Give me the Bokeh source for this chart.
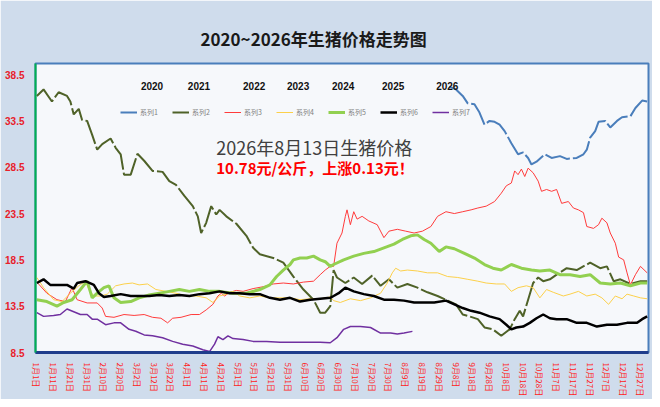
from bokeh.plotting import figure
from bokeh.models import Range1d, FixedTicker, Legend, LegendItem, Label
from bokeh.embed import file_html
from bokeh.resources import INLINE

TITLE = "2020~2026年生猪价格走势图"
NOTE1 = "2026年8月13日生猪价格"
NOTE2 = "10.78元/公斤，上涨0.13元！"

series_names = ["系列1", "系列2", "系列3", "系列4", "系列5", "系列6", "系列7"]
years = ["2020", "2021", "2022", "2023", "2024", "2025", "2026"]

y_ticks = [8.5, 13.5, 18.5, 23.5, 28.5, 33.5, 38.5]
tick_days = list(range(0, 361, 10))
tick_labels = ["1月1日", "1月11日", "1月21日", "1月31日", "2月10日", "2月20日", "3月2日",
               "3月12日", "3月22日", "4月1日", "4月11日", "4月21日", "5月1日", "5月11日",
               "5月21日", "5月31日", "6月10日", "6月20日", "6月30日", "7月10日", "7月20日",
               "7月30日", "8月9日", "8月19日", "8月29日", "9月8日", "9月18日", "9月28日",
               "10月8日", "10月18日", "10月28日", "11月7日", "11月17日", "11月27日",
               "12月7日", "12月17日", "12月27日"]

# 2020
d1 = [246, 250, 254, 257, 261, 264, 267, 270, 273, 276, 279, 283, 287, 290, 293, 295, 298, 303,
      307, 312, 316, 322, 326, 328, 330, 333, 335, 339, 342, 346, 349, 354, 357, 361, 364]
v1 = [37.2, 36.9, 36.2, 35.4, 35.3, 34.4, 33.1, 33.5, 33.4, 33.1, 32.4, 31.1, 29.9, 30.1, 29.5,
      28.8, 29.1, 29.9, 29.5, 29.7, 29.4, 29.5, 29.9, 30.4, 31.7, 32.4, 33.4, 33.5, 32.8, 33.5,
      33.9, 34.0, 34.9, 35.7, 35.6]
# 2021
d2 = [0, 4, 9, 13, 18, 20, 22, 25, 27, 30, 33, 36, 39, 44, 47, 50, 52, 56, 60, 64, 69, 75, 79, 83,
      88, 93, 96, 98, 101, 104, 107, 109, 113, 119, 125, 129, 133, 141, 147, 153, 159, 165, 169,
      172, 175, 177, 179, 184, 189, 194, 200, 205, 210, 215, 221, 227, 233, 239, 245, 250, 254,
      258, 263, 267, 272, 277, 282, 285, 288, 290, 293, 296, 299, 302, 306, 310, 316, 322, 330,
      336, 340, 344, 348, 354, 360, 364]
v2 = [36.2, 36.9, 35.6, 36.6, 36.2, 35.6, 34.2, 34.8, 33.6, 33.5, 32.0, 30.4, 31.0, 31.6, 30.6,
      29.9, 27.7, 27.7, 29.95, 29.2, 28.1, 28.0, 27.0, 26.6, 25.4, 24.3, 23.2, 21.4, 22.5, 24.3,
      23.4, 23.9, 23.2, 22.4, 21.1, 19.8, 19.1, 18.7, 18.2, 16.7, 15.3, 14.2, 12.8, 12.8, 13.5,
      17.4, 16.6, 16.0, 16.6, 15.9, 16.8, 15.7, 16.4, 15.5, 15.9, 15.5, 15.0, 14.6, 14.1, 13.7,
      12.6, 12.4, 12.1, 11.2, 11.0, 10.3, 11.0, 12.1, 13.0, 12.4, 14.2, 16.0, 16.6, 16.2, 16.4,
      16.9, 17.6, 17.4, 18.2, 17.6, 17.8, 16.2, 16.4, 15.9, 16.2, 16.2]
# 2022
d3 = [0, 6, 12, 17, 21, 24, 30, 36, 39, 41, 46, 52, 58, 64, 69, 74, 78, 81, 86, 92, 97, 101, 105,
      108, 110, 112, 115, 119, 123, 129, 135, 141, 147, 153, 159, 165, 169, 172, 175, 177, 179,
      182, 184, 185, 187, 189, 191, 194, 198, 203, 207, 210, 215, 220, 225, 230, 235, 239, 244,
      249, 254, 259, 263, 268, 273, 277, 280, 283, 285, 287, 289, 291, 293, 296, 299, 301, 304,
      307, 310, 313, 317, 320, 323, 326, 328, 332, 335, 337, 340, 342, 345, 347, 350, 352, 354,
      357, 360, 364]
v3 = [16.1, 14.9, 14.2, 14.0, 15.5, 14.2, 13.85, 13.85, 13.3, 12.4, 12.3, 12.6, 12.5, 12.6, 12.3,
      12.2, 11.7, 12.2, 12.3, 12.6, 12.6, 13.1, 13.7, 14.6, 14.9, 14.6, 15.0, 15.2, 15.1, 15.4,
      15.6, 15.9, 16.0, 15.9, 16.1, 16.2, 16.9, 17.4, 17.8, 17.8, 20.3, 21.4, 23.2, 23.9, 22.3,
      23.7, 22.9, 23.2, 22.7, 22.3, 20.9, 21.6, 21.8, 21.6, 21.4, 21.6, 22.1, 23.2, 23.7, 23.5,
      23.7, 23.9, 24.1, 24.3, 24.8, 25.7, 26.5, 26.8, 28.1, 27.7, 28.3, 27.5, 28.4, 27.9, 27.0,
      25.9, 26.1, 25.9, 26.1, 24.6, 24.8, 24.1, 23.9, 23.6, 22.1, 21.9, 22.3, 23.0, 22.5, 21.4,
      20.3, 18.8, 18.5, 17.1, 15.8, 16.9, 17.8, 17.1]
# 2023
d4 = [0, 4, 10, 15, 20, 25, 29, 31, 34, 38, 42, 47, 52, 57, 61, 66, 71, 77, 83, 89, 95, 101, 105,
      109, 113, 117, 121, 127, 133, 139, 145, 151, 157, 163, 169, 175, 177, 181, 187, 193, 199,
      205, 209, 212, 214, 217, 221, 227, 233, 239, 245, 251, 257, 263, 268, 274, 279, 283, 287,
      292, 296, 300, 304, 308, 314, 318, 323, 328, 333, 337, 341, 345, 349, 352, 356, 360, 364]
v4 = [16.6, 15.5, 14.2, 14.0, 14.9, 15.7, 16.2, 15.3, 14.6, 14.6, 14.8, 15.7, 15.9, 16.0, 15.8,
      15.9, 15.3, 15.1, 14.9, 14.6, 14.6, 14.4, 13.9, 14.6, 14.8, 15.1, 14.6, 14.4, 14.6, 14.4,
      14.4, 14.4, 14.2, 14.3, 14.3, 14.5, 14.1, 13.9, 14.3, 14.1, 14.4, 14.9, 16.0, 17.1, 17.6,
      17.3, 17.4, 17.3, 17.1, 17.1, 16.7, 16.6, 16.4, 16.2, 16.0, 15.9, 15.9, 15.1, 15.5, 15.7,
      15.5, 14.4, 15.3, 15.0, 14.6, 14.8, 15.1, 14.6, 14.8, 14.4, 13.7, 14.6, 14.3, 14.8, 14.6,
      14.4, 14.3]
# 2024
d5 = [0, 6, 12, 16, 21, 26, 30, 33, 36, 40, 43, 46, 50, 56, 61, 67, 73, 79, 85, 91, 97, 103, 109,
      117, 125, 133, 139, 143, 147, 151, 153, 157, 161, 165, 169, 172, 175, 177, 183, 189, 195,
      201, 207, 213, 218, 223, 227, 231, 235, 240, 244, 249, 255, 261, 267, 272, 277, 283, 289,
      295, 300, 306, 312, 318, 324, 330, 336, 342, 348, 354, 360, 364]
v5 = [14.2, 14.0, 13.5, 13.9, 14.2, 15.3, 16.2, 14.4, 14.9, 15.5, 15.7, 14.4, 13.9, 14.0, 14.4,
      14.7, 14.9, 15.1, 15.3, 15.1, 15.3, 15.1, 15.1, 14.9, 14.9, 15.3, 15.8, 16.7, 17.4, 18.0,
      18.5, 18.7, 18.7, 18.9, 18.5, 18.3, 17.8, 18.0, 18.5, 18.9, 19.2, 19.4, 19.8, 20.2, 20.7,
      21.1, 21.2, 20.7, 20.3, 19.4, 19.9, 19.7, 19.2, 18.7, 18.0, 17.6, 17.4, 18.0, 17.6, 17.4,
      17.3, 17.4, 16.9, 16.9, 16.7, 16.9, 16.0, 15.9, 16.0, 15.7, 16.0, 16.0]
# 2025
d6 = [0, 4, 8, 13, 18, 22, 24, 29, 34, 37, 40, 44, 50, 56, 61, 67, 73, 79, 85, 91, 97, 103, 109,
      115, 121, 127, 133, 139, 145, 151, 157, 163, 169, 175, 177, 180, 184, 189, 195, 201, 207,
      213, 219, 225, 231, 237, 244, 249, 254, 259, 264, 270, 276, 280, 283, 286, 290, 294, 298,
      302, 306, 310, 316, 322, 328, 334, 340, 346, 352, 358, 361, 364]
v6 = [16.0, 16.4, 15.8, 15.8, 15.8, 15.4, 16.0, 16.2, 15.8, 14.9, 14.5, 14.6, 14.8, 14.6, 14.6,
      14.6, 14.7, 14.6, 14.7, 14.6, 14.8, 14.9, 15.1, 14.9, 14.9, 14.8, 14.8, 14.4, 14.2, 14.4,
      14.0, 14.2, 14.3, 14.4, 14.6, 14.9, 15.5, 15.1, 14.8, 14.6, 14.2, 14.2, 14.1, 13.9, 13.9,
      13.9, 14.1, 13.7, 13.3, 13.0, 12.8, 12.4, 12.1, 11.5, 11.0, 11.2, 11.3, 11.7, 12.2, 12.6,
      12.2, 12.1, 12.1, 11.7, 11.7, 11.3, 11.5, 11.5, 11.7, 11.7, 12.1, 12.4]
# 2026
d7 = [0, 4, 10, 14, 18, 22, 26, 30, 33, 36, 41, 46, 50, 55, 59, 64, 69, 75, 81, 87, 93, 99, 103,
      106, 108, 111, 114, 117, 123, 129, 137, 145, 153, 161, 169, 175, 179, 183, 187, 193, 199,
      205, 211, 215, 219, 224]
v7 = [12.8, 12.4, 12.5, 12.6, 13.2, 12.9, 12.6, 12.6, 12.1, 12.1, 11.5, 11.7, 11.7, 11.0, 10.8,
      10.4, 10.3, 10.1, 9.7, 9.4, 9.2, 8.8, 8.6, 9.4, 10.2, 9.9, 10.3, 10.0, 9.9, 9.7, 9.7, 9.6,
      9.6, 9.6, 9.6, 9.55, 10.1, 11.0, 11.3, 11.3, 11.2, 10.6, 10.6, 10.5, 10.6, 10.78]

p = figure(width=652, height=399, output_backend="svg", toolbar_location=None,
           x_range=Range1d(-0.8, 364.8), y_range=Range1d(8.5, 39.7),
           min_border_left=35, min_border_right=4, min_border_top=63, min_border_bottom=47)

p.border_fill_color = "#cfdcec"
p.background_fill_color = "#f6f8fb"
p.outline_line_color = "#4a7ebb"
p.outline_line_width = 2
p.xgrid.visible = False
p.ygrid.visible = False

p.title.text = TITLE
p.title.align = "left"
p.title.offset = 165
p.title.standoff = 26
p.title.text_font = "Noto Sans CJK SC"
p.title.text_font_size = "17px"
p.title.text_font_style = "bold"
p.title.text_color = "#1a1a1a"

xa = p.xaxis[0]
xa.ticker = FixedTicker(ticks=tick_days)
xa.major_label_overrides = {d: lab for d, lab in zip(tick_days, tick_labels)}
xa.major_label_orientation = "vertical"
xa.major_label_text_font = "Noto Sans CJK SC"
xa.major_label_text_font_size = "8px"
xa.major_label_text_color = "#ff1a1a"
xa.major_label_standoff = 4
xa.major_tick_line_color = None
xa.minor_tick_line_color = None
xa.axis_line_color = "#1f3d8c"
xa.axis_line_width = 3

ya = p.yaxis[0]
ya.ticker = FixedTicker(ticks=y_ticks)
ya.major_label_text_font = "Liberation Sans"
ya.major_label_text_font_style = "bold"
ya.major_label_text_font_size = "10px"
ya.major_label_text_color = "#e8202a"
ya.major_label_standoff = 5
ya.major_tick_line_color = None
ya.minor_tick_line_color = None
ya.axis_line_color = "#00b050"
ya.axis_line_width = 2

styles = [
    dict(color="#4a7ebb", width=2.0, dash="26 3"),
    dict(color="#4f6228", width=2.0, dash="26 3"),
    dict(color="#ff3b3b", width=1.0, dash="solid"),
    dict(color="#fcd04a", width=1.0, dash="solid"),
    dict(color="#92d050", width=3.0, dash="solid"),
    dict(color="#000000", width=2.5, dash="solid"),
    dict(color="#7030a0", width=1.5, dash="solid"),
]
data = [(d1, v1), (d2, v2), (d3, v3), (d4, v4), (d5, v5), (d6, v6), (d7, v7)]

items = []
for name, (dx, vy), st in zip(series_names, data, styles):
    r = p.line(dx, vy, line_color=st["color"], line_width=st["width"], line_dash=st["dash"])
    items.append(LegendItem(label=name, renderers=[r]))

legend = Legend(items=items, orientation="horizontal", location=(85, 235),
                glyph_width=17, glyph_height=10, label_height=10, label_standoff=3,
                spacing=12, padding=0, margin=0, border_line_color=None,
                background_fill_alpha=0, label_text_font="Noto Sans CJK SC",
                label_text_font_size="7px", label_text_color="#808080")
p.add_layout(legend)

year_x = [68.7, 96.7, 129.6, 155.8, 182.7, 212.5, 244.8]
for yx, yr in zip(year_x, years):
    p.add_layout(Label(x=yx, y=37.3, text=yr, text_align="center", text_baseline="middle",
                       text_font="Liberation Sans", text_font_style="bold",
                       text_font_size="10px", text_color="#111111"))

p.add_layout(Label(x=107, y=30.73, text=NOTE1, text_align="left", text_baseline="middle",
                   text_font="Noto Sans CJK SC", text_font_size="18px", text_color="#404040"))
p.add_layout(Label(x=107, y=28.45, text=NOTE2, text_align="left", text_baseline="middle",
                   text_font="Noto Sans CJK SC", text_font_style="bold",
                   text_font_size="15px", text_color="#ff0000"))

open("out.html", "w").write(file_html(p, INLINE))
